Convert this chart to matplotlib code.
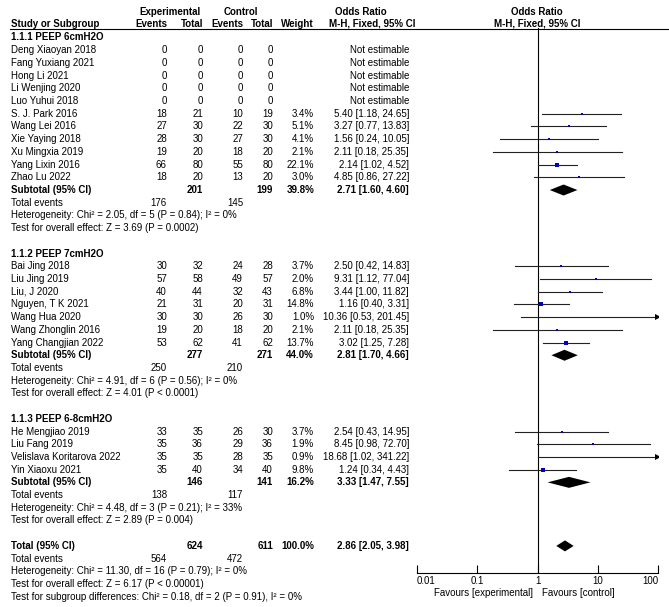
import matplotlib.pyplot as plt

plt.rcParams['font.family'] = ['Liberation Sans', 'DejaVu Sans']

# ---- data ----
group_titles = ['1.1.1 PEEP 6cmH2O', '1.1.2 PEEP 7cmH2O', '1.1.3 PEEP 6-8cmH2O']

names_1 = ['Deng Xiaoyan 2018', 'Fang Yuxiang 2021', 'Hong Li 2021', 'Li Wenjing 2020', 'Luo Yuhui 2018',
           'S. J. Park 2016', 'Wang Lei 2016', 'Xie Yaying 2018', 'Xu Mingxia 2019', 'Yang Lixin 2016', 'Zhao Lu 2022']
exp_ev_1 = [0, 0, 0, 0, 0, 18, 27, 28, 19, 66, 18]
exp_tot_1 = [0, 0, 0, 0, 0, 21, 30, 30, 20, 80, 20]
ctl_ev_1 = [0, 0, 0, 0, 0, 10, 22, 27, 18, 55, 13]
ctl_tot_1 = [0, 0, 0, 0, 0, 19, 30, 30, 20, 80, 20]
weight_1 = [None, None, None, None, None, 3.4, 5.1, 4.1, 2.1, 22.1, 3.0]
or_1 = [None, None, None, None, None, 5.40, 3.27, 1.56, 2.11, 2.14, 4.85]
lo_1 = [None, None, None, None, None, 1.18, 0.77, 0.24, 0.18, 1.02, 0.86]
hi_1 = [None, None, None, None, None, 24.65, 13.83, 10.05, 25.35, 4.52, 27.22]

names_2 = ['Bai Jing 2018', 'Liu Jing 2019', 'Liu, J 2020', 'Nguyen, T K 2021', 'Wang Hua 2020',
           'Wang Zhonglin 2016', 'Yang Changjian 2022']
exp_ev_2 = [30, 57, 40, 21, 30, 19, 53]
exp_tot_2 = [32, 58, 44, 31, 30, 20, 62]
ctl_ev_2 = [24, 49, 32, 20, 26, 18, 41]
ctl_tot_2 = [28, 57, 43, 31, 30, 20, 62]
weight_2 = [3.7, 2.0, 6.8, 14.8, 1.0, 2.1, 13.7]
or_2 = [2.50, 9.31, 3.44, 1.16, 10.36, 2.11, 3.02]
lo_2 = [0.42, 1.12, 1.00, 0.40, 0.53, 0.18, 1.25]
hi_2 = [14.83, 77.04, 11.82, 3.31, 201.45, 25.35, 7.28]

names_3 = ['He Mengjiao 2019', 'Liu Fang 2019', 'Velislava Koritarova 2022', 'Yin Xiaoxu 2021']
exp_ev_3 = [33, 35, 35, 35]
exp_tot_3 = [35, 36, 35, 40]
ctl_ev_3 = [26, 29, 28, 34]
ctl_tot_3 = [30, 36, 35, 40]
weight_3 = [3.7, 1.9, 0.9, 9.8]
or_3 = [2.54, 8.45, 18.68, 1.24]
lo_3 = [0.43, 0.98, 1.02, 0.34]
hi_3 = [14.95, 72.70, 341.22, 4.43]

# subtotals: exp total, ctl total, weight, OR, lo, hi, exp events, ctl events
sub_exp_tot = [201, 277, 146]
sub_ctl_tot = [199, 271, 141]
sub_weight = [39.8, 44.0, 16.2]
sub_or = [2.71, 2.81, 3.33]
sub_lo = [1.60, 1.70, 1.47]
sub_hi = [4.60, 4.66, 7.55]
sub_exp_ev = [176, 250, 138]
sub_ctl_ev = [145, 210, 117]
sub_het = ['Heterogeneity: Chi\u00b2 = 2.05, df = 5 (P = 0.84); I\u00b2 = 0%',
           'Heterogeneity: Chi\u00b2 = 4.91, df = 6 (P = 0.56); I\u00b2 = 0%',
           'Heterogeneity: Chi\u00b2 = 4.48, df = 3 (P = 0.21); I\u00b2 = 33%']
sub_z = ['Test for overall effect: Z = 3.69 (P = 0.0002)',
         'Test for overall effect: Z = 4.01 (P < 0.0001)',
         'Test for overall effect: Z = 2.89 (P = 0.004)']

tot_exp_tot, tot_ctl_tot = 624, 611
tot_or, tot_lo, tot_hi = 2.86, 2.05, 3.98
tot_exp_ev, tot_ctl_ev = 564, 472
tot_lines = ['Heterogeneity: Chi\u00b2 = 11.30, df = 16 (P = 0.79); I\u00b2 = 0%',
             'Test for overall effect: Z = 6.17 (P < 0.00001)',
             'Test for subgroup differences: Chi\u00b2 = 0.18, df = 2 (P = 0.91), I\u00b2 = 0%']

ticks = [0.01, 0.1, 1, 10, 100]

groups = [
    (names_1, exp_ev_1, exp_tot_1, ctl_ev_1, ctl_tot_1, weight_1, or_1, lo_1, hi_1),
    (names_2, exp_ev_2, exp_tot_2, ctl_ev_2, ctl_tot_2, weight_2, or_2, lo_2, hi_2),
    (names_3, exp_ev_3, exp_tot_3, ctl_ev_3, ctl_tot_3, weight_3, or_3, lo_3, hi_3),
]

# ---- layout (pixels) ----
W, H = 669, 607
fs = 7
X_NAME, X_EEV, X_ETOT, X_CEV, X_CTOT, X_W, X_OR = 11, 167, 203, 243, 273, 314, 409
row0, dy = 37.5, 12.71
def ry(i):
    return row0 + dy * i

fig = plt.figure(figsize=(W / 100, H / 100), dpi=100)
tax = fig.add_axes([0, 0, 1, 1])
tax.set_xlim(0, W)
tax.set_ylim(H, 0)
tax.axis('off')

AX_L, AX_R, AX_T, AX_B = 417, 658, 28, 573
fax = fig.add_axes([AX_L / W, 1 - AX_B / H, (AX_R - AX_L) / W, (AX_B - AX_T) / H])
fax.set_xscale('log')
fax.set_xlim(0.01, 100)
fax.set_ylim(AX_B, AX_T)
fax.patch.set_alpha(0)
for s in ['top', 'left', 'right']:
    fax.spines[s].set_visible(False)
fax.spines['bottom'].set_linewidth(0.8)
fax.set_yticks([])
fax.set_xticks(ticks)
fax.minorticks_off()
fax.set_xticklabels(['0.01', '0.1', '1', '10', '100'], fontsize=fs)
fax.tick_params(axis='x', direction='in', length=6, width=0.8, pad=2)
lbls = fax.get_xticklabels()
lbls[0].set_horizontalalignment('left')
lbls[-1].set_horizontalalignment('right')
fax.axvline(1, color='black', lw=0.8)

def txt(x, y, s, ha='left', bold=False):
    tax.text(x, y, s, ha=ha, va='center', fontsize=fs, color='black',
             fontweight='bold' if bold else 'normal')

def diamond(y, o, l, h):
    fax.fill([l, o, h, o], [y, y - 5.5, y, y + 5.5], color='black', lw=0)

# header
txt(170, 12, 'Experimental', ha='center', bold=True)
txt(241, 12, 'Control', ha='center', bold=True)
txt(361, 12, 'Odds Ratio', ha='center', bold=True)
txt(537, 12, 'Odds Ratio', ha='center', bold=True)
txt(X_NAME, 24, 'Study or Subgroup', bold=True)
txt(X_EEV, 24, 'Events', ha='right', bold=True)
txt(X_ETOT, 24, 'Total', ha='right', bold=True)
txt(X_CEV, 24, 'Events', ha='right', bold=True)
txt(X_CTOT, 24, 'Total', ha='right', bold=True)
txt(X_W, 24, 'Weight', ha='right', bold=True)
txt(372, 24, 'M-H, Fixed, 95% CI', ha='center', bold=True)
txt(537, 24, 'M-H, Fixed, 95% CI', ha='center', bold=True)
tax.plot([10, W], [28.5, 28.5], color='black', lw=0.8)

r = 0
for g, (nm, eev, etot, cev, ctot, wt, o, lo, hi) in enumerate(groups):
    txt(X_NAME, ry(r), group_titles[g], bold=True)
    r += 1
    for k in range(len(nm)):
        y = ry(r)
        txt(X_NAME, y, nm[k])
        txt(X_EEV, y, str(eev[k]), ha='right')
        txt(X_ETOT, y, str(etot[k]), ha='right')
        txt(X_CEV, y, str(cev[k]), ha='right')
        txt(X_CTOT, y, str(ctot[k]), ha='right')
        if o[k] is None:
            txt(X_OR, y, 'Not estimable', ha='right')
        else:
            txt(X_W, y, '%.1f%%' % wt[k], ha='right')
            txt(X_OR, y, '%.2f [%.2f, %.2f]' % (o[k], lo[k], hi[k]), ha='right')
            right = min(hi[k], 100)
            fax.plot([lo[k], right], [y, y], color='#222222', lw=0.8)
            if hi[k] > 100:
                fax.plot([100], [y], marker='>', color='black', ms=4, mew=0)
            fax.scatter([o[k]], [y], marker='s', s=wt[k] * 0.5, color='#0000c0', lw=0, zorder=3)
        r += 1
    y = ry(r)
    txt(X_NAME, y, 'Subtotal (95% CI)', bold=True)
    txt(X_ETOT, y, str(sub_exp_tot[g]), ha='right', bold=True)
    txt(X_CTOT, y, str(sub_ctl_tot[g]), ha='right', bold=True)
    txt(X_W, y, '%.1f%%' % sub_weight[g], ha='right', bold=True)
    txt(X_OR, y, '%.2f [%.2f, %.2f]' % (sub_or[g], sub_lo[g], sub_hi[g]), ha='right', bold=True)
    diamond(y, sub_or[g], sub_lo[g], sub_hi[g])
    r += 1
    txt(X_NAME, ry(r), 'Total events')
    txt(X_EEV, ry(r), str(sub_exp_ev[g]), ha='right')
    txt(X_CEV, ry(r), str(sub_ctl_ev[g]), ha='right')
    r += 1
    txt(X_NAME, ry(r), sub_het[g])
    r += 1
    txt(X_NAME, ry(r), sub_z[g])
    r += 2

y = ry(r)
txt(X_NAME, y, 'Total (95% CI)', bold=True)
txt(X_ETOT, y, str(tot_exp_tot), ha='right', bold=True)
txt(X_CTOT, y, str(tot_ctl_tot), ha='right', bold=True)
txt(X_W, y, '100.0%', ha='right', bold=True)
txt(X_OR, y, '%.2f [%.2f, %.2f]' % (tot_or, tot_lo, tot_hi), ha='right', bold=True)
diamond(y, tot_or, tot_lo, tot_hi)
r += 1
txt(X_NAME, ry(r), 'Total events')
txt(X_EEV, ry(r), str(tot_exp_ev), ha='right')
txt(X_CEV, ry(r), str(tot_ctl_ev), ha='right')
r += 1
for line in tot_lines:
    txt(X_NAME, ry(r), line)
    r += 1

txt(533, 593, 'Favours [experimental]', ha='right')
txt(542, 593, 'Favours [control]', ha='left')

fig.savefig('out.png', dpi=100)
